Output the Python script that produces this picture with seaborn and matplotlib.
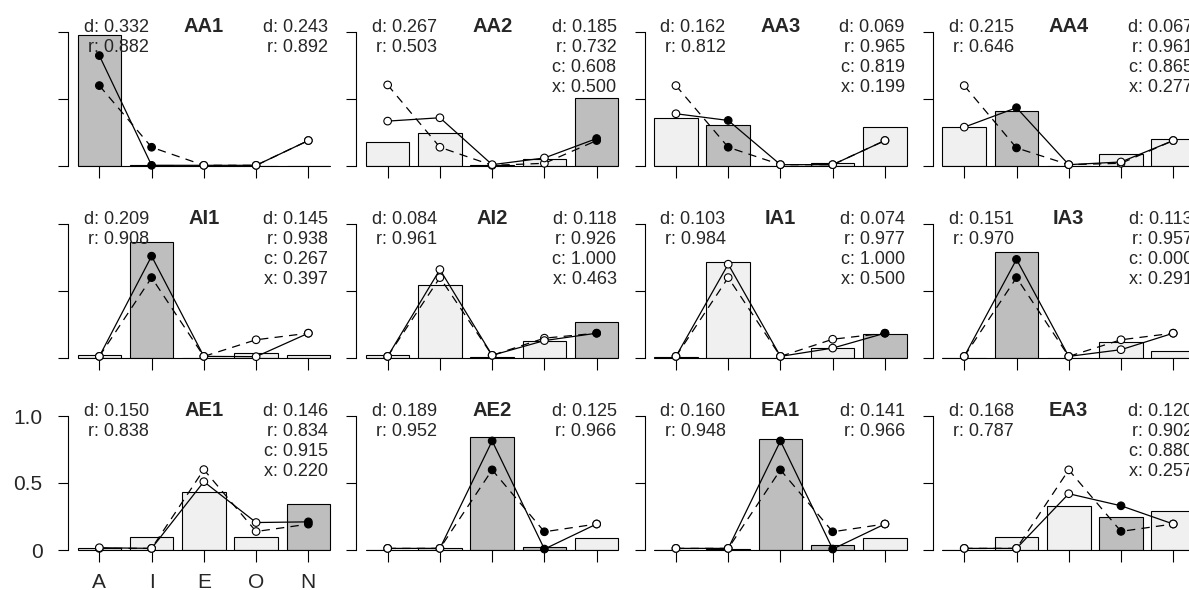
import matplotlib
matplotlib.use("Agg")
import matplotlib.pyplot as plt
import numpy as np
import pandas as pd
import seaborn as sns

# ---------------- data ----------------
categories = ["A", "I", "E", "O", "N"]
panel_names = ["AA1", "AA2", "AA3", "AA4",
               "AI1", "AI2", "IA1", "IA3",
               "AE1", "AE2", "EA1", "EA3"]

bar_values = [
    [0.975, 0.010, 0.000, 0.000, 0.000],
    [0.180, 0.250, 0.005, 0.050, 0.510],
    [0.360, 0.305, 0.000, 0.025, 0.290],
    [0.290, 0.410, 0.000, 0.090, 0.200],
    [0.025, 0.864, 0.000, 0.037, 0.025],
    [0.025, 0.543, 0.005, 0.128, 0.267],
    [0.005, 0.716, 0.000, 0.074, 0.178],
    [0.000, 0.790, 0.000, 0.116, 0.054],
    [0.012, 0.100, 0.435, 0.100, 0.340],
    [0.000, 0.012, 0.843, 0.022, 0.092],
    [0.000, 0.010, 0.830, 0.040, 0.092],
    [0.000, 0.100, 0.325, 0.246, 0.293],
]

solid_values = [
    [0.824, 0.005, 0.005, 0.005, 0.190],
    [0.335, 0.360, 0.010, 0.060, 0.205],
    [0.390, 0.340, 0.010, 0.010, 0.190],
    [0.290, 0.435, 0.010, 0.030, 0.190],
    [0.012, 0.760, 0.012, 0.010, 0.185],
    [0.012, 0.660, 0.020, 0.130, 0.185],
    [0.012, 0.700, 0.012, 0.074, 0.185],
    [0.012, 0.736, 0.012, 0.062, 0.185],
    [0.017, 0.012, 0.510, 0.205, 0.210],
    [0.012, 0.012, 0.814, 0.007, 0.194],
    [0.012, 0.012, 0.814, 0.007, 0.194],
    [0.012, 0.012, 0.420, 0.330, 0.194],
]

dashed_values = [
    [0.600, 0.140, 0.005, 0.005, 0.190],
    [0.605, 0.140, 0.005, 0.020, 0.190],
    [0.600, 0.140, 0.010, 0.010, 0.190],
    [0.600, 0.135, 0.010, 0.020, 0.190],
    [0.012, 0.600, 0.012, 0.136, 0.185],
    [0.012, 0.600, 0.020, 0.148, 0.185],
    [0.012, 0.600, 0.012, 0.140, 0.185],
    [0.012, 0.600, 0.012, 0.136, 0.185],
    [0.012, 0.012, 0.600, 0.138, 0.193],
    [0.012, 0.012, 0.598, 0.136, 0.194],
    [0.012, 0.012, 0.598, 0.136, 0.194],
    [0.012, 0.012, 0.598, 0.139, 0.194],
]

highlighted = [
    ["A", "I"], ["N"], ["I"], ["I"],
    ["I"], ["N"], ["N"], ["I"],
    ["N"], ["E", "O"], ["E", "O"], ["O"],
]

left_notes = [
    ["d: 0.332", "r: 0.882"], ["d: 0.267", "r: 0.503"],
    ["d: 0.162", "r: 0.812"], ["d: 0.215", "r: 0.646"],
    ["d: 0.209", "r: 0.908"], ["d: 0.084", "r: 0.961"],
    ["d: 0.103", "r: 0.984"], ["d: 0.151", "r: 0.970"],
    ["d: 0.150", "r: 0.838"], ["d: 0.189", "r: 0.952"],
    ["d: 0.160", "r: 0.948"], ["d: 0.168", "r: 0.787"],
]

right_notes = [
    ["d: 0.243", "r: 0.892"],
    ["d: 0.185", "r: 0.732", "c: 0.608", "x: 0.500"],
    ["d: 0.069", "r: 0.965", "c: 0.819", "x: 0.199"],
    ["d: 0.067", "r: 0.961", "c: 0.865", "x: 0.277"],
    ["d: 0.145", "r: 0.938", "c: 0.267", "x: 0.397"],
    ["d: 0.118", "r: 0.926", "c: 1.000", "x: 0.463"],
    ["d: 0.074", "r: 0.977", "c: 1.000", "x: 0.500"],
    ["d: 0.113", "r: 0.957", "c: 0.000", "x: 0.291"],
    ["d: 0.146", "r: 0.834", "c: 0.915", "x: 0.220"],
    ["d: 0.125", "r: 0.966"],
    ["d: 0.141", "r: 0.966"],
    ["d: 0.120", "r: 0.902", "c: 0.880", "x: 0.257"],
]

y_tick_values = [0, 0.5, 1.0]
y_tick_labels = ["0", "0.5", "1.0"]

# ---------------- style ----------------
sns.set_theme(style="white")
plt.rcParams["font.family"] = ["Liberation Sans", "DejaVu Sans"]
plt.rcParams["lines.scale_dashes"] = False

DARK = "#BEBEBE"
LIGHT = "#F0F0F0"
W_PX, H_PX = 1189, 590
fig = plt.figure(figsize=(W_PX / 100, H_PX / 100), dpi=100)
fig.patch.set_facecolor("white")

col_left = [68, 356.3, 644.6, 932.9]
row_zero = [166, 358, 550]          # pixel y of value 0
ax_h = 134.0
step = 52.25
xmin, xmax = -0.6, 4.6
ax_w = (xmax - xmin) * step
bar_w = 1 / 1.2
pos = np.arange(len(categories))

for k, name in enumerate(panel_names):
    r, c = divmod(k, 4)
    left = col_left[c] / W_PX
    bottom = (H_PX - row_zero[r]) / H_PX
    ax = fig.add_axes([left, bottom, ax_w / W_PX, ax_h / H_PX])
    ax.set_facecolor("none")

    df = pd.DataFrame({"cat": categories, "val": bar_values[k]})
    pal = {cat: (DARK if cat in highlighted[k] else LIGHT) for cat in categories}
    sns.barplot(data=df, x="cat", y="val", hue="cat", palette=pal,
                width=bar_w, edgecolor="black", linewidth=0.8,
                legend=False, errorbar=None, ax=ax, zorder=2)
    ax.plot([-bar_w / 2, 4 + bar_w / 2], [0, 0], color="black", lw=0.8,
            zorder=2.5, clip_on=False)

    sns.lineplot(x=pos, y=dashed_values[k], color="black", lw=0.9,
                 linestyle=(0, (6, 4.5)), ax=ax, zorder=3)
    sns.lineplot(x=pos, y=solid_values[k], color="black", lw=0.9,
                 ax=ax, zorder=3.1)
    for vals, z in ((dashed_values[k], 4), (solid_values[k], 4.1)):
        fc = ["black" if cat in highlighted[k] else "white" for cat in categories]
        ax.scatter(pos, vals, s=30, facecolors=fc, edgecolors="black",
                   linewidths=0.8, zorder=z, clip_on=False)

    ax.set_xlim(xmin, xmax)
    ax.set_ylim(0, 1)
    ax.set_xlabel("")
    ax.set_ylabel("")
    for s in ("top", "right", "bottom"):
        ax.spines[s].set_visible(False)
    ax.spines["left"].set_color("black")
    ax.spines["left"].set_linewidth(0.8)
    ax.spines["left"].set_bounds(0, 1)

    ax.set_xticks(pos)
    ax.set_yticks(y_tick_values)
    ax.tick_params(axis="x", bottom=True, direction="out", length=8.6,
                   width=0.8, color="black", pad=8, labelsize=15)
    ax.tick_params(axis="y", left=True, direction="out", length=7.2,
                   width=0.8, color="black", pad=11, labelsize=15)
    if r == 2 and c == 0:
        ax.set_xticklabels(categories)
        ax.set_yticklabels(y_tick_labels)
    else:
        ax.tick_params(labelbottom=False, labelleft=False)

    line_dy = 0.149
    ax.text(2, 1.0, name, ha="center", va="baseline", fontsize=14.5,
            fontweight="bold", clip_on=False)
    for i, t in enumerate(left_notes[k]):
        ax.text(0.95, 1.0 - i * line_dy, t, ha="right", va="baseline",
                fontsize=13, clip_on=False)
    for i, t in enumerate(right_notes[k]):
        ax.text(4.38, 1.0 - i * line_dy, t, ha="right", va="baseline",
                fontsize=13, clip_on=False)

fig.savefig("out.png", dpi=100, facecolor="white")
